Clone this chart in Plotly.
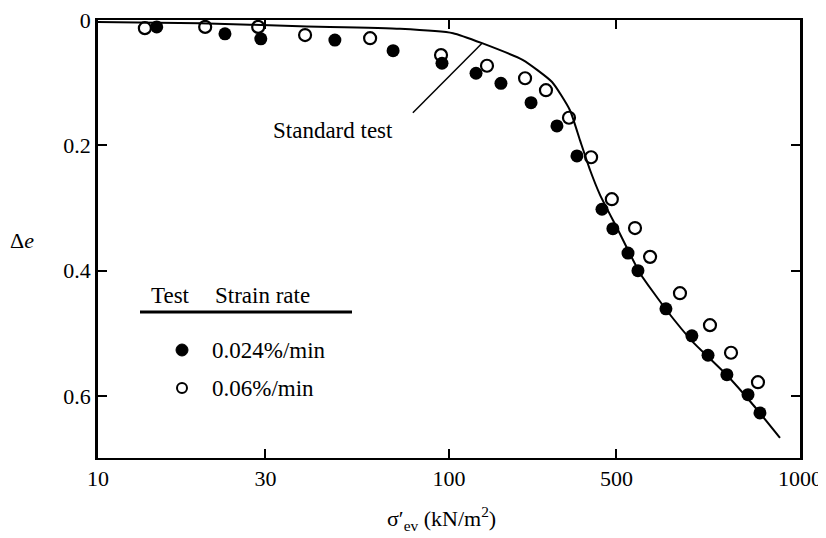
import plotly.graph_objects as go

# Test data
slow_stress = [14.7, 23.0, 29.1, 47.3, 69.3, 95.5, 119.4, 140.6, 171.3, 203, 231.5,
               272.8, 293, 323.6, 345.4, 415, 492, 547, 619, 711, 769]
slow_de = [0.011, 0.022, 0.030, 0.032, 0.049, 0.069, 0.085, 0.101, 0.132, 0.169, 0.217,
           0.302, 0.333, 0.372, 0.400, 0.461, 0.504, 0.535, 0.566, 0.598, 0.627]

fast_stress = [13.6, 20.2, 28.6, 38.9, 59.6, 94.9, 128.3, 164.7, 188.9, 219.7, 254,
               291, 338.8, 374, 455, 554, 636, 759]
fast_de = [0.013, 0.011, 0.011, 0.024, 0.029, 0.056, 0.073, 0.093, 0.112, 0.156, 0.219,
           0.286, 0.332, 0.378, 0.436, 0.487, 0.531, 0.578]

standard_stress = [10, 19.5, 37.6, 72.5, 102.7, 124.2, 162.5, 196.6, 221.1, 236.2, 252.1,
                   269.3, 301.1, 350.1, 417.9, 495.7, 619.4, 734.7, 877]
standard_de = [0.003, 0.005, 0.010, 0.014, 0.021, 0.037, 0.064, 0.099, 0.144, 0.192, 0.239,
               0.279, 0.332, 0.404, 0.464, 0.514, 0.567, 0.614, 0.667]

pointer_stress = [78.9, 124.2]
pointer_de = [0.148, 0.037]

x_tickvals = [10, 30, 100, 300, 1000]
x_ticktext = ["10", "30", "100", "500", "1000"]
y_tickvals = [0, 0.2, 0.4, 0.6]
y_ticktext = ["0", "0.2", "0.4", "0.6"]

legend_labels = ["0.024%/min", "0.06%/min"]

FONT = "Liberation Serif"

fig = go.Figure()
fig.add_trace(go.Scatter(x=standard_stress, y=standard_de, mode="lines",
                         line=dict(color="black", width=2, shape="spline", smoothing=0.5),
                         showlegend=False, hoverinfo="skip"))
fig.add_trace(go.Scatter(x=pointer_stress, y=pointer_de, mode="lines",
                         line=dict(color="black", width=1.5), showlegend=False, hoverinfo="skip"))
fig.add_trace(go.Scatter(x=fast_stress, y=fast_de, mode="markers",
                         marker=dict(symbol="circle-open", size=12, color="black",
                                     line=dict(width=2.2, color="black")),
                         showlegend=False))
fig.add_trace(go.Scatter(x=slow_stress, y=slow_de, mode="markers",
                         marker=dict(symbol="circle", size=13, color="black"),
                         showlegend=False))

# the page body adds an 8px offset, so the figure is drawn 8px smaller
OFF = 8
W, H = 826 - OFF, 538 - OFF
PL, PR, PT, PB = 98, 800, 20, 458  # plot frame in window pixels
L, R, T, B = PL - OFF, W - (PR - OFF), PT - OFF, H - (PB - OFF)
pw, ph = PR - PL, PB - PT


def px(xp):
    return (xp - PL) / pw


def py(yp):
    return 1 - (yp - PT) / ph


fig.update_layout(
    width=W, height=H,
    margin=dict(l=L, r=R, t=T, b=B, autoexpand=False),
    paper_bgcolor="white", plot_bgcolor="white",
    font=dict(family=FONT, color="black", size=22),
    xaxis=dict(type="log", range=[1, 3], tickvals=x_tickvals, ticktext=x_ticktext,
               automargin=False, ticklabeloverflow="allow",
               showgrid=False, zeroline=False, showline=True, linecolor="black", linewidth=2,
               mirror="ticks", ticks="inside", ticklen=9, tickwidth=2, tickcolor="black",
               tickfont=dict(family=FONT, size=22, color="black")),
    yaxis=dict(range=[0.699, 0], tickvals=y_tickvals, ticktext=y_ticktext,
               automargin=False, ticklabeloverflow="allow",
               showgrid=False, zeroline=False, showline=True, linecolor="black", linewidth=2.5,
               mirror="ticks", ticks="inside", ticklen=9, tickwidth=2, tickcolor="black",
               tickfont=dict(family=FONT, size=22, color="black")),
)


def note(text, xp, yp, size=23, xanchor="center"):
    return dict(text=text, x=px(xp), y=py(yp), xref="paper", yref="paper",
                xanchor=xanchor, yanchor="middle", showarrow=False,
                font=dict(family=FONT, size=size, color="black"))


annotations = [
    note("Standard test", 333, 130),
    note("Δ<i>e</i>", 22, 240, size=22),
    note("σ′<sub>ev</sub> (kN/m<sup>2</sup>)", 441, 518, size=22),
    note("Test", 170, 295),
    note("Strain rate", 213, 295, xanchor="left"),
    note(legend_labels[0], 210, 350, xanchor="left"),
    note(legend_labels[1], 210, 388, xanchor="left"),
]
fig.update_layout(annotations=annotations)

shapes = [
    dict(type="line", xref="paper", yref="paper", x0=px(140), x1=px(352), y0=py(312), y1=py(312),
         line=dict(color="black", width=3)),
    dict(type="circle", xref="paper", yref="paper", xsizemode="pixel", ysizemode="pixel",
         xanchor=px(182), yanchor=py(350), x0=-6, x1=6, y0=-6, y1=6,
         fillcolor="black", line=dict(color="black", width=1)),
    dict(type="circle", xref="paper", yref="paper", xsizemode="pixel", ysizemode="pixel",
         xanchor=px(182), yanchor=py(388), x0=-5, x1=5, y0=-5, y1=5,
         fillcolor="white", line=dict(color="black", width=2)),
]
fig.update_layout(shapes=shapes)

fig.write_html("out.html")
